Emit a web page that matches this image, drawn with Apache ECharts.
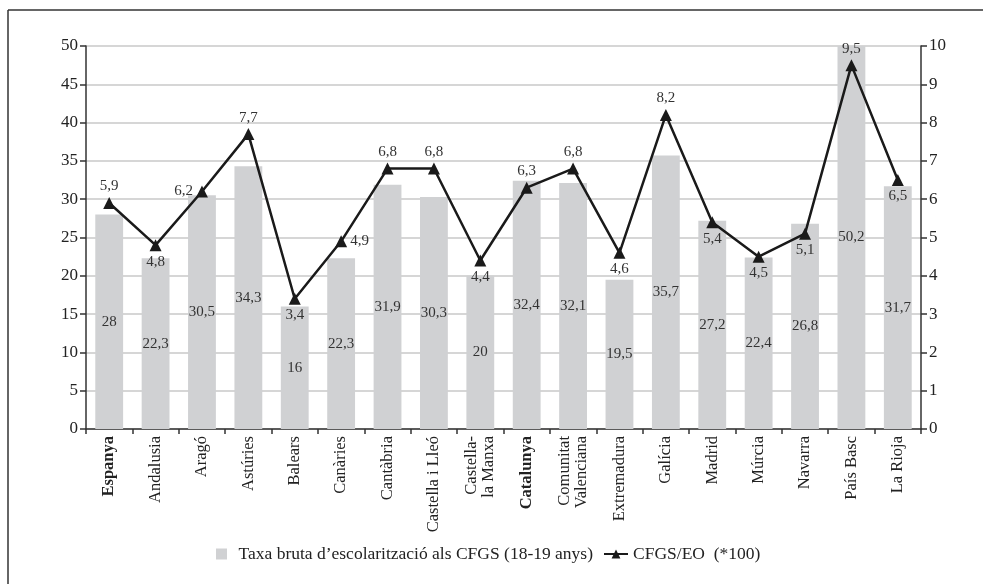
<!DOCTYPE html>
<html><head><meta charset="utf-8">
<script src="https://cdn.jsdelivr.net/npm/echarts@6/dist/echarts.min.js"></script>
<style>html,body{margin:0;padding:0;background:#fff}#c{width:983px;height:584px}</style>
</head><body><div id="c"></div>
<script>
const categories = ['Espanya','Andalusia','Aragó','Astúries','Balears','Canàries','Cantàbria','Castella i Lleó','Castella-\nla Manxa','Catalunya','Comunitat\nValenciana','Extremadura','Galícia','Madrid','Múrcia','Navarra','País Basc','La Rioja'];
const taxaBruta = [28,22.3,30.5,34.3,16,22.3,31.9,30.3,20,32.4,32.1,19.5,35.7,27.2,22.4,26.8,50.2,31.7];
const cfgsEo = [5.9,4.8,6.2,7.7,3.4,4.9,6.8,6.8,4.4,6.3,6.8,4.6,8.2,5.4,4.5,5.1,9.5,6.5];
const leftTicks = [0,5,10,15,20,25,30,35,40,45,50];
const rightTicks = [0,1,2,3,4,5,6,7,8,9,10];
const lineLabelPos = ['top','bottom','left','top','bottom','right','top','top','bottom','top','top','bottom','top','bottom','bottom','bottom','top','bottom'];
const boldCats = ['Espanya','Catalunya'];

const font = '"Liberation Serif", "DejaVu Serif", serif';
const fmt = v => String(v).replace('.', ',');
const chart = echarts.init(document.getElementById('c'), null, {renderer:'canvas'});
chart.setOption({
  animation:false,
  textStyle:{fontFamily:font},
  grid:{left:86,right:62,top:46,bottom:155},
  legend:{
    left:211, top:540, itemGap:10, itemWidth:24, itemHeight:11,
    textStyle:{fontFamily:font,fontSize:17.5,color:'#222'},
    data:[
      {name:'Taxa bruta d’escolarització als CFGS (18-19 anys)', icon:'path://M0,0h10v10h-10z', itemStyle:{color:'#d0d1d3'}},
      {name:'CFGS/EO  (*100)'}
    ]
  },
  xAxis:{
    type:'category', data:categories,
    axisLine:{lineStyle:{color:'#333',width:1.5}},
    axisTick:{show:true,alignWithLabel:false,length:5,lineStyle:{color:'#333',width:1.5}},
    axisLabel:{
      rotate:90, interval:0, fontFamily:font, fontSize:16.5, color:'#222', lineHeight:17, margin:7,
      formatter: v => boldCats.includes(v) ? '{b|'+v+'}' : v,
      rich:{b:{fontWeight:'bold',fontFamily:font,fontSize:16.5,color:'#222'}}
    }
  },
  yAxis:[
    {type:'value', min:0, max:50, interval:5,
     axisLine:{show:true,lineStyle:{color:'#333',width:1.5}},
     axisTick:{show:true,length:6,lineStyle:{color:'#333',width:1.5}},
     axisLabel:{fontFamily:font,fontSize:17,color:'#222',margin:8, formatter:v=>leftTicks.includes(v)?String(v):''},
     splitLine:{lineStyle:{color:'#c8c8c8',width:1.5}}},
    {type:'value', min:0, max:10, interval:1,
     axisLine:{show:true,lineStyle:{color:'#333',width:1.5}},
     axisTick:{show:true,length:6,inside:false,lineStyle:{color:'#333',width:1.5}},
     axisLabel:{fontFamily:font,fontSize:17,color:'#222',margin:8, formatter:v=>rightTicks.includes(v)?String(v):''},
     splitLine:{show:false}}
  ],
  series:[
    {name:'Taxa bruta d’escolarització als CFGS (18-19 anys)', type:'bar', yAxisIndex:0,
     data:taxaBruta, barWidth:'60%', itemStyle:{color:'#d0d1d3'},
     label:{show:true, position:'inside', fontFamily:font, fontSize:15, color:'#333', formatter:p=>fmt(p.value)}},
    {name:'CFGS/EO  (*100)', type:'line', yAxisIndex:1,
     data: cfgsEo.map((v,i)=>({value:v, label:{position:lineLabelPos[i]}})),
     symbol:'triangle', symbolSize:12, itemStyle:{color:'#1a1a1a'},
     lineStyle:{color:'#1a1a1a',width:2.5},
     label:{show:true, fontFamily:font, fontSize:15, color:'#333', distance:3, formatter:p=>fmt(p.value)}}
  ],
  graphic:[
    {type:'line', shape:{x1:8,y1:10,x2:983,y2:10}, style:{stroke:'#333',lineWidth:1.5}, silent:true},
    {type:'line', shape:{x1:8,y1:10,x2:8,y2:584}, style:{stroke:'#333',lineWidth:1.5}, silent:true}
  ]
});
</script></body></html>
